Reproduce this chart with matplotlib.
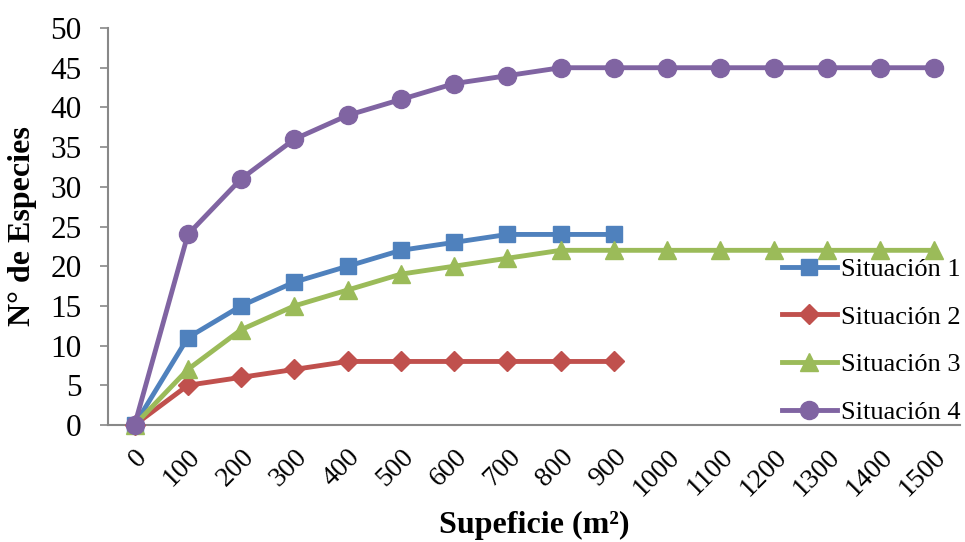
import matplotlib
matplotlib.use("Agg")
import matplotlib.pyplot as plt

categories = ["0", "100", "200", "300", "400", "500", "600", "700", "800", "900",
              "1000", "1100", "1200", "1300", "1400", "1500"]
situacion1 = [0, 11, 15, 18, 20, 22, 23, 24, 24, 24]
situacion2 = [0, 5, 6, 7, 8, 8, 8, 8, 8, 8]
situacion3 = [0, 7, 12, 15, 17, 19, 20, 21, 22, 22, 22, 22, 22, 22, 22, 22]
situacion4 = [0, 24, 31, 36, 39, 41, 43, 44, 45, 45, 45, 45, 45, 45, 45, 45]
labels = ["Situación 1", "Situación 2", "Situación 3", "Situación 4"]

plt.rcParams['font.family'] = ['Liberation Serif', 'DejaVu Serif']

fig = plt.figure(figsize=(9.65, 5.42), dpi=100)
ax = fig.add_axes([0.1119, 0.2159, 0.8831, 0.7324])

series = [situacion1, situacion2, situacion3, situacion4]
colors = ["#4F81BD", "#C0504D", "#9BBB59", "#8064A2"]
markers = ["s", "D", "^", "o"]
msizes = [12, 10, 13, 13]
for vals, c, m, ms, lab in zip(series, colors, markers, msizes, labels):
    ax.plot(range(len(vals)), vals, color=c, marker=m, markersize=ms, lw=3.5,
            label=lab, clip_on=False, zorder=3)

ax.set_xlim(-0.5, len(categories) - 0.5)
ax.set_ylim(0, 50)
ax.set_yticks(range(0, 51, 5))
ax.set_xticks(range(len(categories)))
ax.set_xticklabels(categories, rotation=45, ha='right', va='top', rotation_mode='anchor')
ax.tick_params(axis='y', labelsize=22.5, length=5.8, color='#888888', width=1.2,
               direction='out', pad=13)
ax.tick_params(axis='x', labelsize=20, length=0, pad=14)

for s in ['top', 'right']:
    ax.spines[s].set_visible(False)
for s in ['left', 'bottom']:
    ax.spines[s].set_color('#888888')
    ax.spines[s].set_linewidth(1.5)

ax.set_ylabel("N° de Especies", fontsize=23, fontweight='bold', labelpad=10)
fig.text(0.5533, 9 / 542, "Supeficie (m²)", fontsize=23, fontweight='bold',
         ha='center', va='baseline')

leg = ax.legend(loc='center left', bbox_to_anchor=(0.769, 0.212), frameon=False,
                fontsize=19, handlelength=2.1, handletextpad=0.15, labelspacing=0.92,
                borderpad=0.2)

fig.savefig("out.png", dpi=100)
